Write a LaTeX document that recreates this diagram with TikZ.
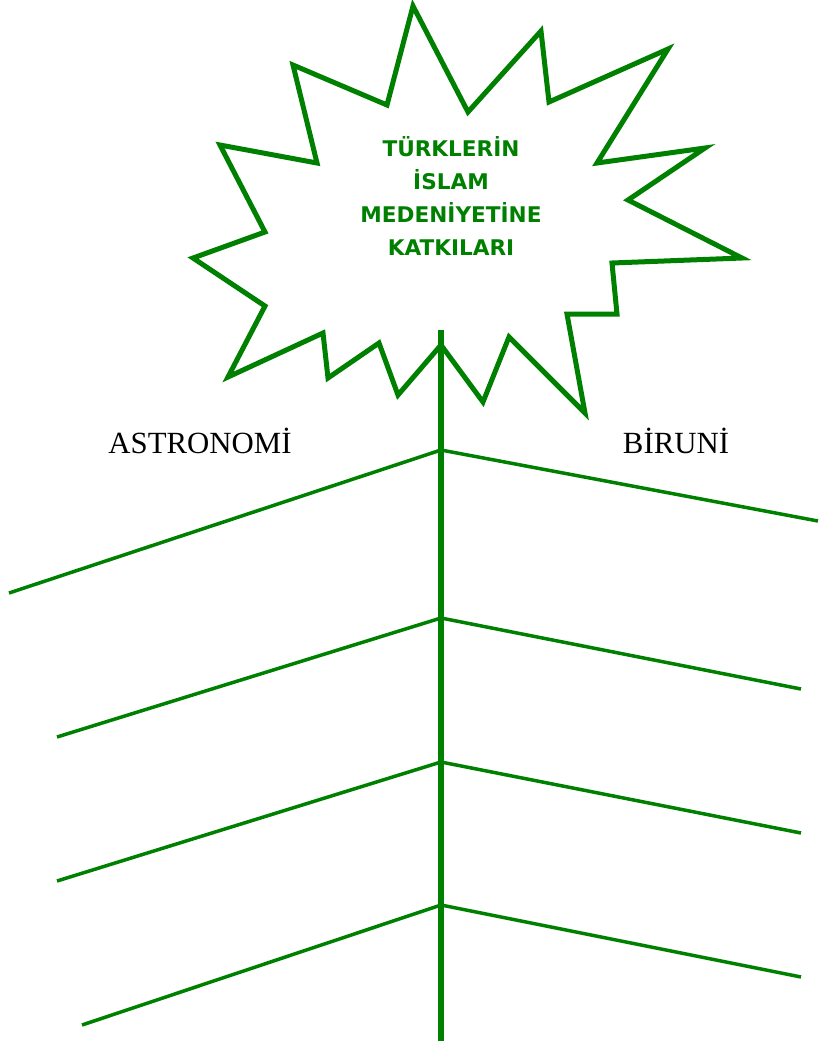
\documentclass[tikz,border=0pt]{standalone}
\usepackage{fontspec}
\setmainfont{Liberation Serif}
\newfontfamily\starfont{DejaVu Sans}
\usepackage{xcolor}
\definecolor{leafgreen}{RGB}{0, 128, 0}
\usepackage{tikz}
\usetikzlibrary{positioning, calc}

\begin{document}
\begin{tikzpicture}[x=0.5pt, y=-0.5pt,
        star/.style={draw=leafgreen, line width=2.5pt, line join=miter, fill=white},
        stem/.style={draw=leafgreen, line width=3pt},
        branch/.style={draw=leafgreen, line width=1.75pt},
        title/.style={align=center, text=leafgreen, font=\starfont\bfseries\fontsize{10.8}{16.4}\selectfont},
        label/.style={anchor=base, font=\fontsize{15.4}{18}\selectfont}]

        \useasboundingbox (0,0) rectangle (819,1041);

        % Yildiz (baslik cercevesi)
        \draw [star] (413,6) -- (468,112) -- (541,31) -- (549,102) -- (668,49) -- (597,163)
            -- (705,148) -- (628,200) -- (742,258) -- (612,263) -- (617,314) -- (567,314)
            -- (585,413) -- (509,337) -- (483,402) -- (441,345) -- (398,395) -- (379,343)
            -- (328,378) -- (323,333) -- (228,377) -- (265,306) -- (193,258) -- (265,232)
            -- (220,145) -- (317,163) -- (293,65) -- (387,105) -- cycle;
        \node [title] (baslik) at (451,196) {TÜRKLERİN\\İSLAM\\MEDENİYETİNE\\KATKILARI};

        % Gövde
        \coordinate (govdeust) at (441,330);
        \coordinate (govdealt) at (441,1041);
        \coordinate (d1) at (441,450);
        \coordinate (d2) at (441,618);
        \coordinate (d3) at (441,762);
        \coordinate (d4) at (441,905);

        % Dal uçları
        \coordinate (sol1) at (9,593);
        \coordinate (sol2) at (57,737);
        \coordinate (sol3) at (57,881);
        \coordinate (sol4) at (82,1025);
        \coordinate (sag1) at (818,521);
        \coordinate (sag2) at (801,689);
        \coordinate (sag3) at (801,833);
        \coordinate (sag4) at (801,977);

        % Dallar
        \path [branch] (d1) -- (sol1);
        \path [branch] (d2) -- (sol2);
        \path [branch] (d3) -- (sol3);
        \path [branch] (d4) -- (sol4);
        \path [branch] (d1) -- (sag1);
        \path [branch] (d2) -- (sag2);
        \path [branch] (d3) -- (sag3);
        \path [branch] (d4) -- (sag4);
        \path [stem] (govdeust) -- (govdealt);

        % Etiketler
        \node [label] (astronomi) at (200,453) {ASTRONOMİ};
        \node [label] (biruni) at (676,453) {BİRUNİ};
    \end{tikzpicture}
\end{document}
